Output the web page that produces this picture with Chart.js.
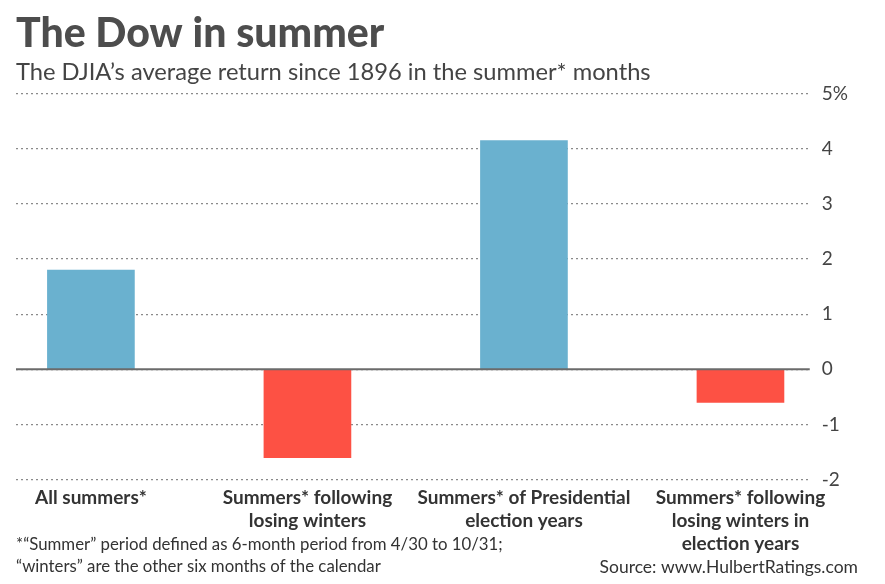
<!DOCTYPE html>
<html>
<head>
<meta charset="utf-8">
<script src="https://cdn.jsdelivr.net/npm/chart.js@4/dist/chart.umd.min.js"></script>
<style>
  body { margin: 0; background: #fff; }
  #wrap { width: 885px; height: 584px; position: relative; }
</style>
</head>
<body>
<div id="wrap"><canvas id="chart"></canvas></div>
<script>
// categories and average summer returns (%)
var categories = [
    ["All summers*"],
    ["Summers* following", "losing winters"],
    ["Summers* of Presidential", "election years"],
    ["Summers* following", "losing winters in", "election years"]
];
var returns = [1.8, -1.6, 4.15, -0.6];
var yTicks = [-2, -1, 0, 1, 2, 3, 4, 5];

var footNote = [
    "*\u201cSummer\u201d period defined as 6-month period from 4/30 to 10/31;",
    "\u201cwinters\u201d are the other six months of the calendar"
];
var source = "Source: www.HulbertRatings.com";

var BLUE = '#6ab1cf';
var RED = '#fd5144';

// solid zero line over the dotted grid
var zeroLine = {
    id: 'zeroLine',
    afterDatasetsDraw: function(chart) {
        var ctx = chart.ctx, y = chart.scales.y.getPixelForValue(0), a = chart.chartArea;
        ctx.save();
        ctx.strokeStyle = '#6b6b6b';
        ctx.lineWidth = 2;
        ctx.beginPath();
        ctx.moveTo(a.left, y);
        ctx.lineTo(a.right, y);
        ctx.stroke();
        ctx.restore();
    }
};

// footnote and source line
var footer = {
    id: 'footer',
    afterDraw: function(chart) {
        var ctx = chart.ctx;
        ctx.save();
        ctx.fillStyle = '#333';
        ctx.textBaseline = 'middle';
        ctx.textAlign = 'left';
        ctx.font = '16.8px Lato';
        ctx.fillText(footNote[0], 16, 545);
        ctx.fillText(footNote[1], 16, 567);
        ctx.textAlign = 'right';
        ctx.font = '17.5px Lato';
        ctx.fillText(source, 858, 567);
        ctx.restore();
    }
};

var chartView = document.getElementById('chart');
var chart = new Chart(chartView, {
    type: 'bar',
    data: {
        datasets: [{
            data: returns.map(function(v, i) { return { x: i, y: v }; }),
            backgroundColor: returns.map(function(v) { return v < 0 ? RED : BLUE; }),
            barThickness: 87,
            borderWidth: 0
        }]
    },
    options: {
        responsive: true,
        maintainAspectRatio: false,
        animation: false,
        layout: { padding: { left: 16, right: 25, top: 0, bottom: 22 } },
        plugins: {
            legend: { display: false },
            tooltip: { enabled: false },
            title: {
                display: true,
                text: 'The Dow in summer',
                align: 'start',
                color: '#4d4d4d',
                font: { family: 'Lato', size: 41, weight: '900' },
                padding: { top: 9, bottom: 0 }
            },
            subtitle: {
                display: true,
                text: 'The DJIA\u2019s average return since 1896 in the summer* months',
                align: 'start',
                color: '#444',
                font: { family: 'Lato', size: 23.7 },
                padding: { top: 0, bottom: 7 }
            }
        },
        scales: {
            x: {
                type: 'linear',
                offset: false,
                min: -0.346,
                max: 3.32,
                grid: { display: false, drawTicks: false },
                border: { display: false },
                afterBuildTicks: function(scale) {
                    scale.ticks = categories.map(function(c, i) { return { value: i }; });
                },
                ticks: {
                    autoSkip: false,
                    maxRotation: 0,
                    padding: 7,
                    color: '#333',
                    font: { family: 'Lato', size: 19, weight: 'bold', lineHeight: 1.2 },
                    callback: function(v) { return categories[v]; }
                }
            },
            y: {
                position: 'right',
                min: -2,
                max: 5,
                afterBuildTicks: function(scale) {
                    scale.ticks = yTicks.map(function(v) { return { value: v }; });
                },
                grid: { color: '#8a8a8a', lineWidth: 1.3, drawTicks: false },
                border: { display: false, dash: [2, 3] },
                ticks: {
                    padding: 12,
                    crossAlign: 'near',
                    color: '#444',
                    font: { family: 'Lato', size: 19 },
                    callback: function(v) { return v === 5 ? '5%' : String(v); }
                }
            }
        }
    },
    plugins: [zeroLine, footer]
});
</script>
</body>
</html>
